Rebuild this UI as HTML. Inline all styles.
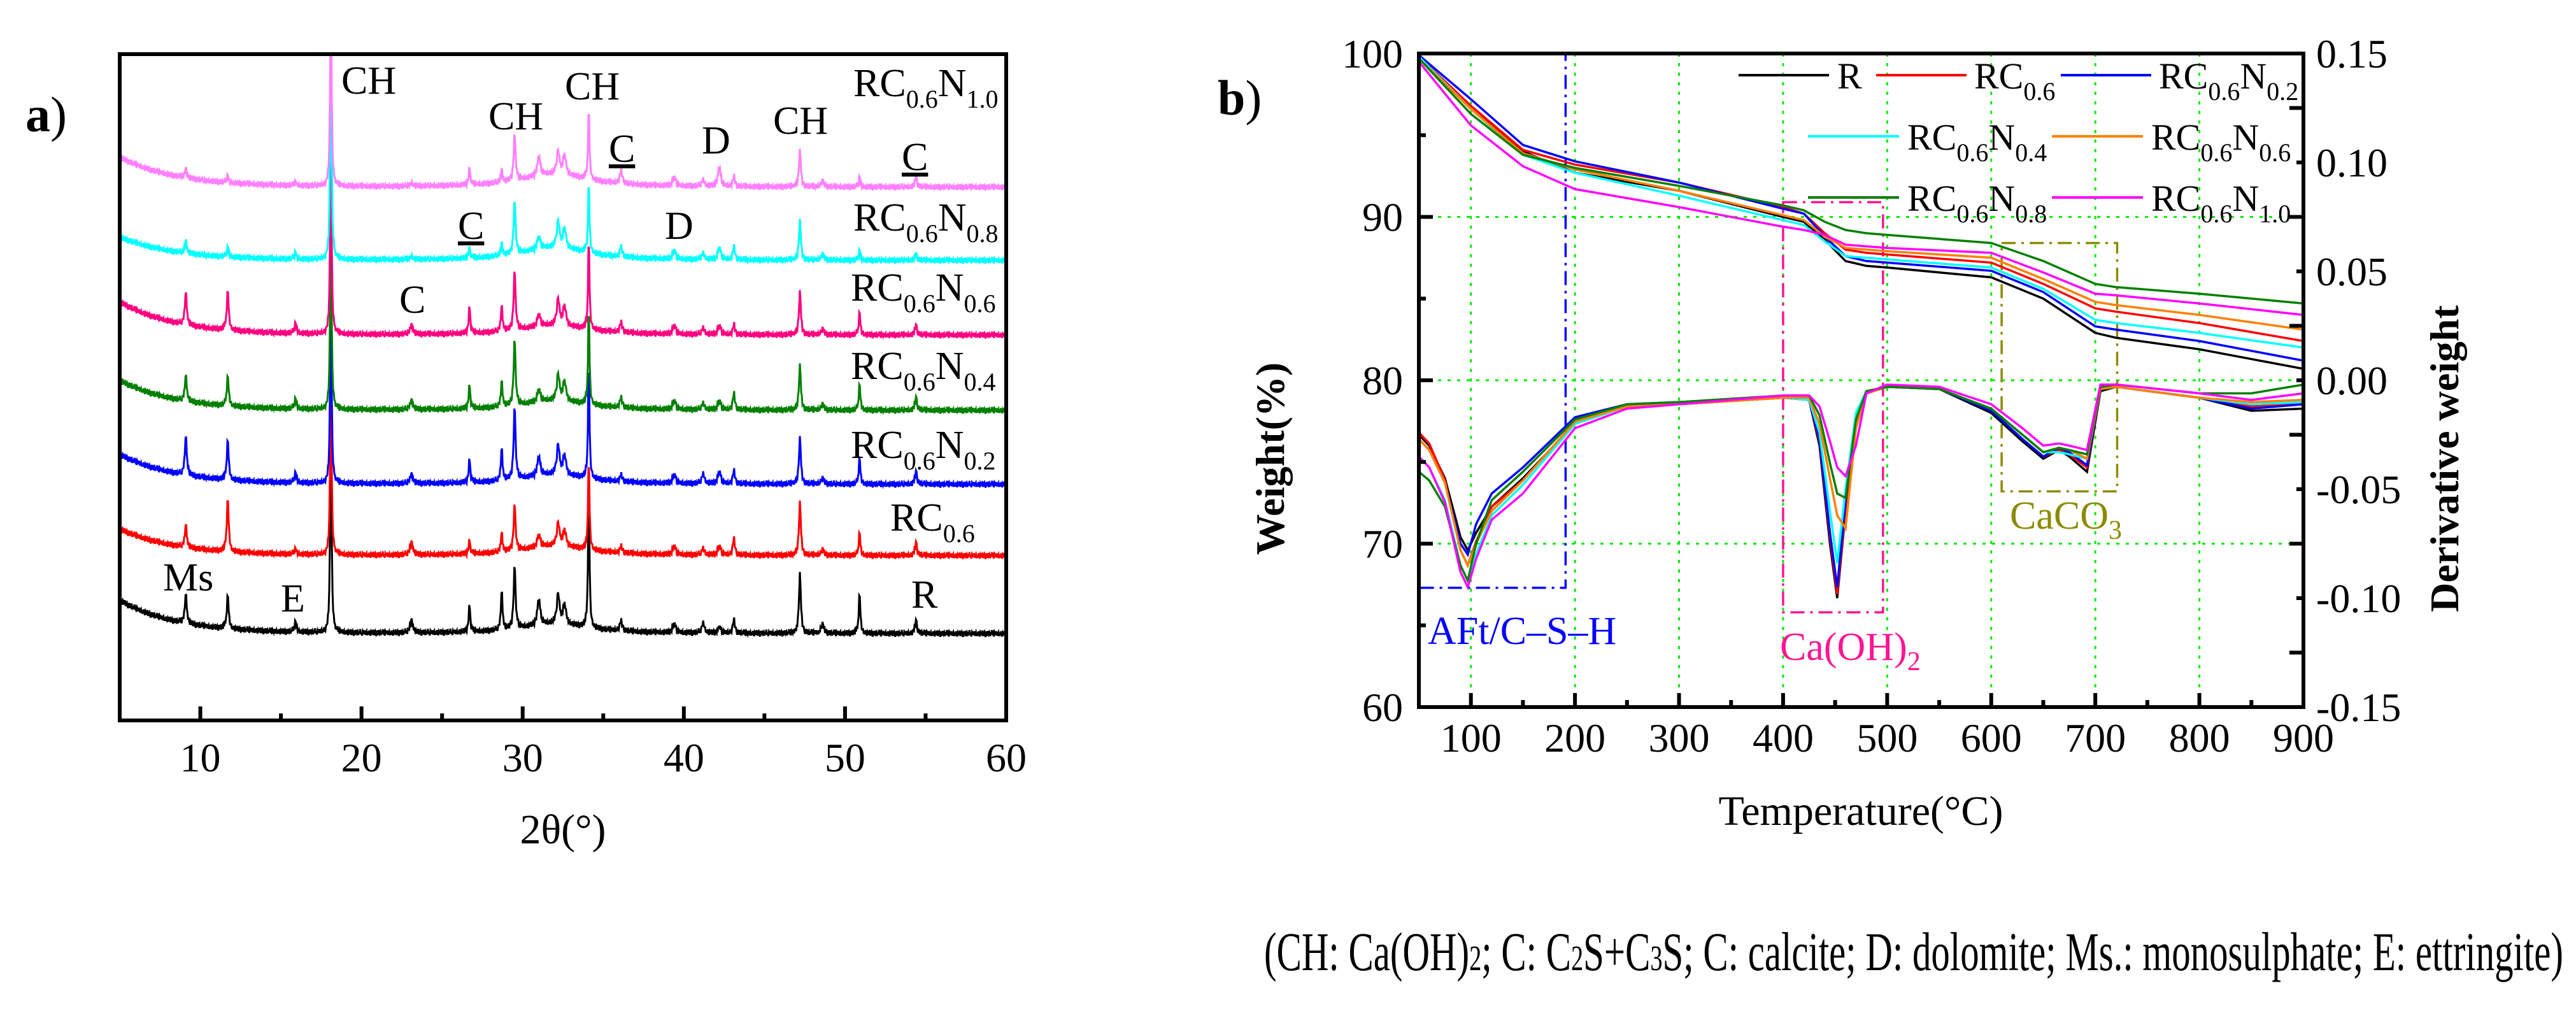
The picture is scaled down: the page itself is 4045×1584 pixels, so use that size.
<!DOCTYPE html>
<html><head><meta charset="utf-8"><style>
html,body{margin:0;padding:0;background:#fff;}
svg{display:block;}
svg text{font-family:"Liberation Serif","DejaVu Serif","Noto Serif CJK SC",serif;}
</style></head><body>
<svg id="fig" width="4045" height="1584" viewBox="0 0 4045 1584" xmlns="http://www.w3.org/2000/svg" font-family="'Liberation Serif','DejaVu Serif',serif">
<rect width="4045" height="1584" fill="#fff"/>
<g id="xrd"></g>
<g id="tga"></g>
<g font-size="62" fill="#000">
<text x="40" y="206" font-size="78" font-weight="bold">a<tspan font-weight="normal">)</tspan></text>
<text x="536" y="147">CH</text>
<text x="767" y="203">CH</text>
<text x="887" y="156">CH</text>
<text x="956" y="254" text-decoration="underline">C</text>
<text x="1102" y="241">D</text>
<text x="1214" y="210">CH</text>
<text x="1416" y="267" text-decoration="underline">C</text>
<text x="719" y="375" text-decoration="underline">C</text>
<text x="1044" y="375">D</text>
<text x="627" y="491">C</text>
<text x="256" y="927">Ms</text>
<text x="441" y="960">E</text>
<text x="1431" y="954">R</text>
<text x="1340" y="151">RC<tspan font-size="40" dy="18">0.6</tspan><tspan dy="-18">N</tspan><tspan font-size="40" dy="18">1.0</tspan></text>
<text x="1340" y="362">RC<tspan font-size="40" dy="18">0.6</tspan><tspan dy="-18">N</tspan><tspan font-size="40" dy="18">0.8</tspan></text>
<text x="1336" y="472">RC<tspan font-size="40" dy="18">0.6</tspan><tspan dy="-18">N</tspan><tspan font-size="40" dy="18">0.6</tspan></text>
<text x="1336" y="595">RC<tspan font-size="40" dy="18">0.6</tspan><tspan dy="-18">N</tspan><tspan font-size="40" dy="18">0.4</tspan></text>
<text x="1336" y="719">RC<tspan font-size="40" dy="18">0.6</tspan><tspan dy="-18">N</tspan><tspan font-size="40" dy="18">0.2</tspan></text>
<text x="1398" y="833">RC<tspan font-size="40" dy="18">0.6</tspan></text>
<text x="884" y="1324" text-anchor="middle" font-size="66">2θ(°)</text>
</g>
<g font-size="62" fill="#000">
<text x="1912" y="180" font-size="78" font-weight="bold">b<tspan font-weight="normal">)</tspan></text>
<text transform="translate(2016,720) rotate(-90)" text-anchor="middle" font-size="64" font-weight="bold">Weight(%)</text>
<text transform="translate(3860,720) rotate(-90)" text-anchor="middle" font-size="64" font-weight="bold">Derivative weight</text>
<text x="2922" y="1295" text-anchor="middle" font-size="66">Temperature(°C)</text>
<text x="2242" y="1011" fill="#0000ff">AFt/C–S–H</text>
<text x="2795" y="1036" fill="#ff1493">Ca(OH)<tspan font-size="42" dy="16">2</tspan></text>
<text x="3156" y="830" fill="#8b8b00">CaCO<tspan font-size="42" dy="16">3</tspan></text>
</g>
<g font-size="58" fill="#000">
<line x1="2730" y1="118" x2="2872" y2="118" stroke="#000" stroke-width="4"/>
<text x="2885" y="139">R</text>
<line x1="2946" y1="118" x2="3088" y2="118" stroke="#ff0000" stroke-width="4"/>
<text x="3100" y="139">RC<tspan font-size="40" dy="18">0.6</tspan></text>
<line x1="3236" y1="118" x2="3378" y2="118" stroke="#0000ff" stroke-width="4"/>
<text x="3390" y="139">RC<tspan font-size="40" dy="18">0.6</tspan><tspan dy="-18">N</tspan><tspan font-size="40" dy="18">0.2</tspan></text>
<line x1="2839" y1="214" x2="2982" y2="214" stroke="#00ffff" stroke-width="4"/>
<text x="2995" y="235">RC<tspan font-size="40" dy="18">0.6</tspan><tspan dy="-18">N</tspan><tspan font-size="40" dy="18">0.4</tspan></text>
<line x1="3222" y1="214" x2="3365" y2="214" stroke="#ff8000" stroke-width="4"/>
<text x="3378" y="235">RC<tspan font-size="40" dy="18">0.6</tspan><tspan dy="-18">N</tspan><tspan font-size="40" dy="18">0.6</tspan></text>
<line x1="2839" y1="310" x2="2982" y2="310" stroke="#008000" stroke-width="4"/>
<text x="2995" y="331">RC<tspan font-size="40" dy="18">0.6</tspan><tspan dy="-18">N</tspan><tspan font-size="40" dy="18">0.8</tspan></text>
<line x1="3222" y1="310" x2="3365" y2="310" stroke="#ff00ff" stroke-width="4"/>
<text x="3378" y="331">RC<tspan font-size="40" dy="18">0.6</tspan><tspan dy="-18">N</tspan><tspan font-size="40" dy="18">1.0</tspan></text>
</g>
<text x="1985" y="1523" font-size="86" textLength="2040" lengthAdjust="spacingAndGlyphs">(CH: Ca(OH)<tspan font-size="56">2</tspan>; C: C<tspan font-size="56">2</tspan>S+C<tspan font-size="56">3</tspan>S; C: calcite; D: dolomite; Ms.: monosulphate; E: ettringite)</text>
</svg>
<script>
// ---------- XRD data ----------
const xrdSeriesNames = ['R','RC0.6','RC0.6N0.2','RC0.6N0.4','RC0.6N0.6','RC0.6N0.8','RC0.6N1.0'];
const xrdColors = ['#000000','#ff0000','#0000ff','#008000','#ff0080','#00ffff','#ff80ff'];
const xrdPeakPos = [9.1,11.7,15.9,18.1,23.1,26.7,28.7,29.5,31.0,32.2,32.6,34.1,36.1,39.4,41.2,42.2,43.1,47.2,48.6,50.9,54.4,32.0];
const xrdPeakWidth = [0.07,0.07,0.08,0.05,0.1,0.06,0.06,0.07,0.1,0.1,0.1,0.05,0.1,0.1,0.1,0.1,0.08,0.07,0.1,0.06,0.08,2.5];
const xrdH_R   = [4.5,5,1.5,32,2,4,6,9.5,4,4.5,3,22,1.5,1.5,1.5,1,2,9,1.5,6,2,1.5];
const xrdH_RC  = [3.5,8,0.8,28,2,2,3,7,2,3.5,2.5,14,1,1.5,1,1.5,2.5,8,1,3.5,2,1.5];
const xrdH_N02 = [6,6,1.5,30,1.5,3.5,5,11,3,4.5,3,18,1,1.5,1.5,2,2,7,1,4,2,1.5];
const xrdH_N04 = [4,4.5,1.5,30,1.5,3.5,4,10,2,4,3,15,1.5,1.5,1,1.5,2.5,6.8,1,4,2,1.5];
const xrdH_N06 = [5,6,1.5,30,1.5,4,4,9,2,4,3,14,1.5,1.5,1,1.5,1.5,6.5,1,3.5,1.5,1.5];
const xrdH_N08 = [2,1.5,1,35,0.5,1.5,2,8,2,4,3,11,1.5,1.5,1,2,2,6,1,1.5,1,2];
const xrdH_N10 = [1.5,1,0.5,30,0.5,2.5,2,7,3,3.5,3,11,2,1.5,1,3,1.5,5.5,1,1.5,1.5,2];
const xrdBase = [13,24.7,35.4,46.5,57.8,69,80];
const xrdLift = [5,4,4.5,4.5,5,3.5,4.5];
const xrdNoise = [0.3,-0.5,0.6,-0.2,-0.7,0.4,0.1,-0.4,0.8,-0.6,0.2,0.5,-0.3,-0.8,0.6,0.0,-0.5,0.7,-0.1,0.3,-0.6,0.4,-0.2,0.9,-0.4,0.1,-0.7,0.5,0.2,-0.3,0.6,-0.5,0.0,0.4,-0.6];
const xrdTicks = [10,20,30,40,50,60];
// ---------- TGA data ----------
const tgT = [50,100,150,200,300,400,420,440,460,480,500,600,650,700,720,800,900];
const tg_R   = [99.8,96.6,94.0,92.7,91.6,90.0,89.7,88.6,87.3,87.0,86.9,86.3,85.0,82.9,82.6,81.9,80.7];
const tg_RC  = [99.8,96.8,94.1,93.2,92.1,90.6,90.2,89.0,88.0,87.8,87.7,87.2,85.9,84.4,84.2,83.5,82.4];
const tg_N02 = [99.9,97.2,94.4,93.4,92.1,90.5,90.2,88.8,87.6,87.3,87.2,86.7,85.4,83.3,83.1,82.4,81.2];
const tg_N04 = [99.8,96.6,93.8,92.7,91.3,89.8,89.5,88.5,87.6,87.5,87.4,86.9,85.6,83.7,83.5,82.9,82.0];
const tg_N06 = [99.7,96.6,93.9,92.9,91.6,90.1,89.8,88.8,88.1,88.0,87.9,87.5,86.2,84.8,84.6,84.0,83.1];
const tg_N08 = [99.7,96.3,93.8,93.0,91.9,90.7,90.4,89.7,89.2,89.0,88.9,88.4,87.3,85.9,85.7,85.3,84.7];
const tg_N10 = [99.5,95.6,93.1,91.7,90.6,89.4,89.2,88.9,88.3,88.2,88.1,87.8,86.6,85.3,85.2,84.7,84.0];
const dtgT = [50,60,75,90,97,105,120,150,200,250,300,400,425,435,445,452,460,470,480,500,550,600,630,650,665,675,692,705,720,800,850,900];
const dtg_R   = [-.025,-.030,-.045,-.072,-.078,-.070,-.058,-.045,-.020,-.012,-.011,-.008,-.009,-.030,-.075,-.100,-.060,-.020,-.006,-.003,-.004,-.015,-.028,-.036,-.032,-.035,-.042,-.005,-.003,-.008,-.014,-.013];
const dtg_RC  = [-.024,-.029,-.046,-.078,-.085,-.074,-.058,-.046,-.019,-.012,-.011,-.008,-.009,-.028,-.072,-.098,-.058,-.018,-.005,-.003,-.004,-.014,-.027,-.035,-.032,-.034,-.040,-.004,-.003,-.008,-.012,-.011];
const dtg_N02 = [-.027,-.032,-.047,-.075,-.080,-.066,-.052,-.040,-.017,-.011,-.010,-.008,-.009,-.027,-.070,-.095,-.055,-.017,-.005,-.003,-.004,-.014,-.027,-.035,-.031,-.033,-.039,-.004,-.003,-.008,-.013,-.011];
const dtg_N04 = [-.035,-.040,-.055,-.085,-.092,-.080,-.062,-.048,-.020,-.012,-.011,-.008,-.009,-.024,-.060,-.084,-.050,-.015,-.005,-.003,-.004,-.013,-.025,-.033,-.033,-.034,-.036,-.004,-.003,-.008,-.011,-.010];
const dtg_N06 = [-.027,-.032,-.047,-.078,-.085,-.075,-.060,-.046,-.019,-.012,-.011,-.008,-.008,-.020,-.045,-.062,-.068,-.022,-.006,-.003,-.004,-.013,-.025,-.033,-.031,-.032,-.036,-.004,-.003,-.008,-.010,-.009];
const dtg_N08 = [-.042,-.046,-.058,-.085,-.092,-.075,-.055,-.042,-.018,-.011,-.010,-.007,-.007,-.016,-.038,-.052,-.054,-.018,-.005,-.003,-.004,-.013,-.025,-.033,-.031,-.032,-.034,-.003,-.002,-.006,-.006,-.002];
const dtg_N10 = [-.035,-.040,-.056,-.088,-.095,-.082,-.064,-.052,-.022,-.013,-.011,-.007,-.007,-.012,-.028,-.040,-.044,-.030,-.006,-.002,-.003,-.011,-.022,-.030,-.029,-.030,-.032,-.002,-.002,-.006,-.009,-.006];
const tgColors = ['#000000','#ff0000','#0000ff','#00ffff','#ff8000','#008000','#ff00ff'];
const tgNames = ['r','rc06','n02','n04','n06','n08','n10'];
const tgXTicks = [100,200,300,400,500,600,700,800,900];
const tgYTicks = [60,70,80,90,100];
const dtgTicks = [-0.15,-0.10,-0.05,0.00,0.05,0.10,0.15];
const boxAft = [50,191,100,67.3];
const boxCa = [400,496,90.9,65.8];
const boxCc = [610,721,88.4,73.2];

const NS='http://www.w3.org/2000/svg';
function mk(tag,attrs,parent){const e=document.createElementNS(NS,tag);for(const k in attrs)e.setAttribute(k,attrs[k]);parent.appendChild(e);return e;}

// ---------- XRD panel ----------
const A={l:188,r:1580,t:85,b:1131};
const ax=x=>A.l+(x-5)/55*(A.r-A.l);
const ay=v=>A.b-v/100*(A.b-A.t);
const gx=document.getElementById('xrd');
const defs=mk('defs',{},gx);
const cpA=mk('clipPath',{id:'clipA'},defs);
mk('rect',{x:A.l,y:A.t,width:A.r-A.l,height:A.b-A.t},cpA);
const xrdHeights=[xrdH_R,xrdH_RC,xrdH_N02,xrdH_N04,xrdH_N06,xrdH_N08,xrdH_N10];
const gA=mk('g',{'clip-path':'url(#clipA)'},gx);
xrdSeriesNames.forEach((nm,s)=>{
  let pts=[];let i=0;
  for(let x=5;x<=60.001;x+=0.04,i++){
    let v=xrdBase[s]+xrdLift[s]*Math.exp(-(x-5)/3.5);
    xrdPeakPos.forEach((p,k)=>{const w=xrdPeakWidth[k];v+=xrdHeights[s][k]/(1+((x-p)/w)*((x-p)/w));});
    v+=xrdNoise[i%xrdNoise.length]*0.6;
    pts.push(ax(x).toFixed(1)+','+ay(v).toFixed(1));
  }
  const pl=mk('polyline',{points:pts.join(' '),fill:'none',stroke:xrdColors[s],'stroke-width':3,'stroke-linejoin':'miter'},gA);
  
  
});
const frA=mk('rect',{x:A.l,y:A.t,width:A.r-A.l,height:A.b-A.t,fill:'none',stroke:'#000','stroke-width':6},gx);


for(let t=10;t<=55;t+=5){
  const major=t%10===0;
  const tk=mk('line',{x1:ax(t),x2:ax(t),y1:A.b,y2:A.b-(major?22:11),stroke:'#000','stroke-width':6},gx);
  
  
}
xrdTicks.forEach(t=>{
  const tl=mk('text',{x:ax(t),y:1211,'text-anchor':'middle','font-size':64},gx);
  tl.textContent=t;
  
  
});

// ---------- TGA panel ----------
const B={l:2228,r:3617,t:84,b:1110};
const bx=T=>B.l+(T-50)/850*(B.r-B.l);
const by=w=>B.b-(w-60)/40*(B.b-B.t);
const bd=d=>B.b-(d+0.15)/0.30*(B.b-B.t);
const gb=document.getElementById('tga');
const cpB=mk('clipPath',{id:'clipB'},defs);
mk('rect',{x:B.l,y:B.t,width:B.r-B.l,height:B.b-B.t},cpB);
const gB=mk('g',{'clip-path':'url(#clipB)'},gb);
[100,200,300,400,500,600,700,800].forEach(T=>{
  const g=mk('line',{x1:bx(T),x2:bx(T),y1:B.t,y2:B.b,stroke:'#00ee00','stroke-width':3,'stroke-dasharray':'5,10'},gB);
  
  
});
[70,80,90].forEach(w=>{
  const g=mk('line',{x1:B.l,x2:B.r,y1:by(w),y2:by(w),stroke:'#00ee00','stroke-width':3,'stroke-dasharray':'5,10'},gB);
  
  
});
function box(bv,col){
  const d='M'+bx(bv[0])+','+by(bv[2])+' L'+bx(bv[1])+','+by(bv[2])+' L'+bx(bv[1])+','+by(bv[3])+' L'+bx(bv[0])+','+by(bv[3])+' Z';
  return mk('path',{d:d,fill:'none',stroke:col,'stroke-width':3.5,'stroke-dasharray':'22,9,4,9'},gB);
}
const b1=box(boxAft,'#0000ff');


const b2=box(boxCa,'#ff1493');


const b3=box(boxCc,'#8b8b00');


const tgAll=[tg_R,tg_RC,tg_N02,tg_N04,tg_N06,tg_N08,tg_N10];
const dtgAll=[dtg_R,dtg_RC,dtg_N02,dtg_N04,dtg_N06,dtg_N08,dtg_N10];
tgAll.forEach((ser,s)=>{
  const pts=ser.map((w,i)=>bx(tgT[i]).toFixed(1)+','+by(w).toFixed(1)).join(' ');
  const pl=mk('polyline',{points:pts,fill:'none',stroke:tgColors[s],'stroke-width':3.5},gB);
  
  
});
dtgAll.forEach((ser,s)=>{
  const pts=ser.map((d,i)=>bx(dtgT[i]).toFixed(1)+','+bd(d).toFixed(1)).join(' ');
  const pl=mk('polyline',{points:pts,fill:'none',stroke:tgColors[s],'stroke-width':3.5},gB);
  
  
});
const frB=mk('rect',{x:B.l,y:B.t,width:B.r-B.l,height:B.b-B.t,fill:'none',stroke:'#000','stroke-width':6},gb);


for(let T=100;T<=850;T+=50){
  const major=T%100===0;
  const tk=mk('line',{x1:bx(T),x2:bx(T),y1:B.b,y2:B.b-(major?22:11),stroke:'#000','stroke-width':6},gb);
  
  
}
for(let w=65;w<100;w+=5){
  const major=w%10===0;
  const tk=mk('line',{x1:B.l,x2:B.l+(major?22:11),y1:by(w),y2:by(w),stroke:'#000','stroke-width':6},gb);
  
  
}
for(let k=-5;k<=5;k++){
  const d=k*0.025;const major=k%2!==0;
  const tk=mk('line',{x1:B.r,x2:B.r-(major?22:11),y1:bd(d),y2:bd(d),stroke:'#000','stroke-width':6},gb);
  
  
}
tgXTicks.forEach(T=>{
  const tl=mk('text',{x:bx(T),y:1180,'text-anchor':'middle','font-size':64},gb);
  tl.textContent=T;
  
  
});
tgYTicks.forEach(w=>{
  const tl=mk('text',{x:2203,y:by(w)+22,'text-anchor':'end','font-size':64},gb);
  tl.textContent=w;
  
  
});
dtgTicks.forEach(d=>{
  const tl=mk('text',{x:3637,y:bd(d)+22,'font-size':64},gb);
  tl.textContent=d.toFixed(2);
  
  
});
</script>
</body></html>
